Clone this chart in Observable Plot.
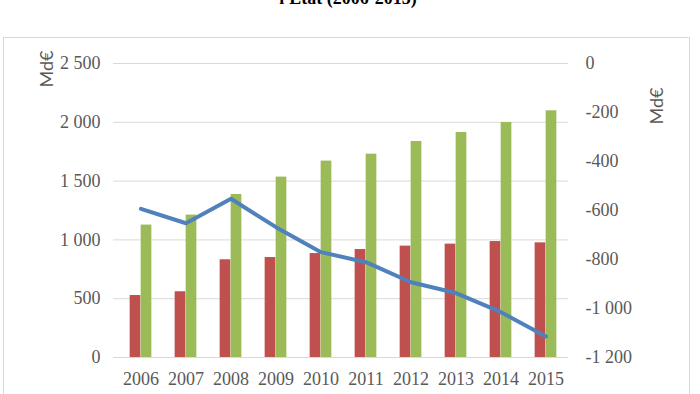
<!DOCTYPE html>
<html>
<head>
<meta charset="utf-8">
<script src="https://cdn.jsdelivr.net/npm/d3@7"></script>
<script src="https://cdn.jsdelivr.net/npm/@observablehq/plot@0.6"></script>
<style>
  html, body { margin: 0; padding: 0; background: #fff; overflow: hidden; }
  #wrap { position: relative; width: 700px; height: 394px; }
  #title { position: absolute; left: 0; width: 696px; top: -11px; text-align: center;
           font-family: "Liberation Serif", serif; font-weight: bold; font-size: 18px; line-height: 18px; color: #000; }
  #box { position: absolute; left: 3px; top: 37px; width: 685px; height: 400px; border: 1px solid #d9d9d9; }
  #chart { position: absolute; left: 0; top: 0; }
</style>
</head>
<body>
<div id="wrap">
  <div id="title">l'Etat (2006-2015)</div>
  <div id="box"></div>
  <div id="chart"></div>
</div>
<script>
const years = ["2006","2007","2008","2009","2010","2011","2012","2013","2014","2015"];
const redValues = [527, 559, 831, 850, 884, 918, 947, 964, 986, 975];
const greenValues = [1126, 1211, 1386, 1534, 1670, 1729, 1837, 1913, 1998, 2098];
const lineValues = [-593, -652, -552, -668, -770, -811, -893, -937, -1015, -1114];
const leftTicks = [0, 500, 1000, 1500, 2000, 2500];
const rightTicks = [0, -200, -400, -600, -800, -1000, -1200];

const leftMax = 2500, rightMin = -1200, rightMax = 0;
const toLeft = v => (v - rightMin) / (rightMax - rightMin) * leftMax;
const fromLeft = d => d / leftMax * (rightMax - rightMin) + rightMin;

const locale = d3.formatLocale({decimal: ",", thousands: " ", grouping: [3], currency: ["", " €"], minus: "-"});
const fmt = locale.format(",");

const data = years.map((year, i) => ({year, red: redValues[i], green: greenValues[i], line: lineValues[i]}));

const xRange = [116, 569];
const bw = (xRange[1] - xRange[0]) / years.length;
const barW = 11;

const plot = Plot.plot({
  width: 700,
  height: 394,
  marginTop: 63,
  marginBottom: 37,
  marginLeft: 113,
  marginRight: 132,
  style: {fontFamily: "'Liberation Serif', serif", fontSize: "18px", color: "#595959", background: "transparent"},
  x: {type: "band", domain: years, range: xRange, padding: 0},
  y: {domain: [0, leftMax]},
  marks: [
    Plot.gridY({ticks: leftTicks, stroke: "#d9d9d9", strokeOpacity: 1}),
    Plot.barY(data, {x: "year", y: "red", fill: "#c0504d", insetLeft: bw / 2 - barW, insetRight: bw / 2}),
    Plot.barY(data, {x: "year", y: "green", fill: "#9bbb59", insetLeft: bw / 2, insetRight: bw / 2 - barW}),
    Plot.line(data, {x: "year", y: d => toLeft(d.line), stroke: "#4f81bd", strokeWidth: 4, strokeLinejoin: "round", strokeLinecap: "round"}),
    Plot.axisY({ticks: leftTicks, tickFormat: fmt, tickSize: 0, tickPadding: 13, label: null, fontSize: 18}),
    Plot.axisY({anchor: "right", ticks: rightTicks.map(toLeft), tickFormat: d => fmt(Math.round(fromLeft(d))), tickSize: 0, tickPadding: 17, label: null, fontSize: 18}),
    Plot.axisX({tickSize: 0, tickPadding: 15, label: null, fontSize: 18}),
    Plot.text(["Md€"], {frameAnchor: "top-left", dx: 40 - 113, dy: 87 - 63, rotate: -90, text: d => d, fontFamily: "Lato, sans-serif", fontSize: 18, fill: "#595959"}),
    Plot.text(["Md€"], {frameAnchor: "top-right", dx: 650 - 568, dy: 87 - 63, rotate: -90, text: d => d, fontFamily: "Lato, sans-serif", fontSize: 18, fill: "#595959"})
  ]
});
document.getElementById("chart").appendChild(plot);
</script>
</body>
</html>
